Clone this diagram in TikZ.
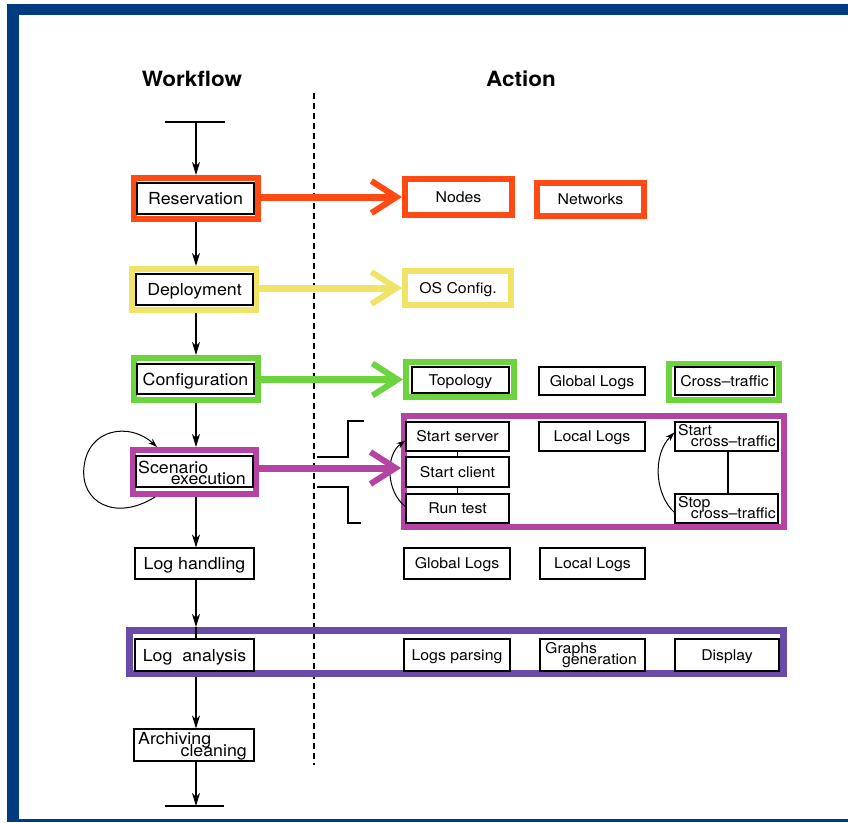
\documentclass[tikz,border=0pt]{standalone}
\usepackage{fontspec}
\setmainfont{TeX Gyre Heros}[FakeStretch=1.07]
\usetikzlibrary{arrows.meta,calc}
\definecolor{navy}{RGB}{0,58,128}
\definecolor{cOr}{RGB}{255,74,20}
\definecolor{cYe}{RGB}{240,228,104}
\definecolor{cGr}{RGB}{108,212,60}
\definecolor{cMa}{RGB}{180,68,164}
\definecolor{cVi}{RGB}{106,76,168}
\begin{document}
\begin{tikzpicture}[x=1pt,y=-1pt,
  rfont/.style={font=\fontsize{14.8}{15}\selectfont, text height=10.7pt, text depth=0pt},
  lfont/.style={font=\fontsize{16.6}{17}\selectfont, text height=12pt, text depth=0pt},
  frame/.style={draw=#1, line width=6pt, inner sep=0pt, outer sep=3pt, rfont},
  box/.style={draw=black, line width=1.1pt, fill=white, inner sep=0pt, rfont},
  lbox/.style={box, lfont},
  txt/.style={inner sep=0pt, font=\fontsize{14.8}{15}\selectfont},
  ltxt/.style={inner sep=0pt, font=\fontsize{16.6}{17}\selectfont},
  thin/.style={line width=1.1pt},
  flow/.style={thin, -{Stealth[length=13pt,width=8pt,inset=4pt]}},
  loop/.style={line width=1pt, -{Stealth[length=9pt,width=6pt,inset=3pt]}},
  big/.style={draw=#1, line width=7pt, -{Straight Barb[length=25pt,width=32pt,line width=6pt]}}
]
\useasboundingbox (0,0) rectangle (848,822);
\fill[white] (0,0) rectangle (848,822);
\fill[navy] (7,4) rectangle (848,15);
\fill[navy] (7,4) rectangle (19,822);
\fill[navy] (7,819) rectangle (848,822);

% titles
\node[font=\bfseries\fontsize{21}{21}\selectfont, anchor=base, inner sep=0pt] (tW) at (192,86) {Workflow};
\node[font=\bfseries\fontsize{21}{21}\selectfont, anchor=base, inner sep=0pt] (tA) at (521,86) {Action};

% dashed separator
\coordinate (d1) at (314,93);
\coordinate (d2) at (314,765);
\draw[thin, dash pattern=on 6pt off 4pt] (d1) -- (d2);

% ---- frames ----
\node[frame=cOr, minimum width=124pt, minimum height=41pt] (resF) at (196,198.5) {};
\node[frame=cYe, minimum width=124pt, minimum height=41pt] (depF) at (194,289.5) {};
\node[frame=cGr, minimum width=124pt, minimum height=42pt] (conF) at (196,379) {};
\node[frame=cMa, minimum width=123pt, minimum height=44pt] (scnF) at (194.5,472) {};
\node[frame=cVi, line width=7pt, outer sep=3.5pt, minimum width=654pt, minimum height=43pt] (lanF) at (456.5,652) {};

\node[frame=cOr, minimum width=107pt, minimum height=36pt] (nodesF) at (458.5,197) {Nodes};
\node[frame=cOr, minimum width=107pt, minimum height=33pt] (netF) at (590.5,199.5) {Networks};
\node[frame=cYe, minimum width=106pt, minimum height=34pt] (osF) at (458,288) {OS Config.};
\node[frame=cGr, minimum width=108pt, minimum height=35pt] (topF) at (460,379.5) {};
\node[frame=cGr, minimum width=110pt, minimum height=36pt] (crossF) at (724,382) {};
\node[frame=cMa, minimum width=380pt, minimum height=111pt] (scF) at (594,471.5) {};

% ---- left boxes ----
\node[lbox, minimum width=117pt, minimum height=31pt] (resB) at (195.5,198.5) {Reservation};
\node[lbox, minimum width=117pt, minimum height=31pt] (depB) at (194.5,289.5) {Deployment};
\node[lbox, minimum width=117pt, minimum height=30pt] (conB) at (195.5,379) {Configuration};
\node[lbox, minimum width=117pt, minimum height=31pt] (scnB) at (194.5,471.5) {};
\node[ltxt, anchor=base west] (scnT1) at (138,473) {Scenario};
\node[ltxt, anchor=base east] (scnT2) at (246,484) {execution};
\node[lbox, minimum width=119pt, minimum height=31pt] (logh) at (194.5,563.5) {Log handling};
\node[lbox, minimum width=119pt, minimum height=32pt] (lanB) at (194.5,655) {Log\ \ analysis};
\node[lbox, minimum width=120pt, minimum height=32pt] (arch) at (194,745) {};
\node[ltxt, anchor=base west] (archT1) at (138,744) {Archiving};
\node[ltxt, anchor=base east] (archT2) at (247,756) {cleaning};

% ---- right boxes ----
\node[box, minimum width=97pt, minimum height=26pt] (topB) at (460.5,380) {Topology};
\node[box, minimum width=106pt, minimum height=28pt] (glob1) at (592,381) {Global Logs};
\node[box, minimum width=99pt, minimum height=28pt] (crossB) at (724.5,381) {Cross–traffic};

\node[box, minimum width=103pt, minimum height=29pt] (ss) at (457.5,436.5) {Start server};
\node[box, minimum width=103pt, minimum height=30pt] (sc) at (457.5,472) {Start client};
\node[box, minimum width=103pt, minimum height=29pt] (rt) at (457.5,508.5) {Run test};
\node[box, minimum width=106pt, minimum height=29pt] (loc1) at (592,436.5) {Local Logs};
\node[box, minimum width=103pt, minimum height=29pt] (sct) at (726.5,436.5) {};
\node[txt, anchor=base west] (sctT1) at (678,435) {Start};
\node[txt, anchor=base east] (sctT2) at (776,446) {cross–traffic};
\node[box, minimum width=103pt, minimum height=29pt] (stct) at (726.5,508.5) {};
\node[txt, anchor=base west] (stctT1) at (678,507) {Stop};
\node[txt, anchor=base east] (stctT2) at (776,518) {cross–traffic};

\node[box, minimum width=106pt, minimum height=31pt] (glob2) at (457,563.5) {Global Logs};
\node[box, minimum width=105pt, minimum height=31pt] (loc2) at (592.5,563.5) {Local Logs};
\node[box, minimum width=106pt, minimum height=32pt] (lp) at (457,655) {Logs parsing};
\node[box, minimum width=105pt, minimum height=32pt] (gg) at (592.5,655) {};
\node[txt, anchor=base west] (ggT1) at (545,653) {Graphs};
\node[txt, anchor=base east] (ggT2) at (637,664) {generation};
\node[box, minimum width=104pt, minimum height=32pt] (disp) at (727,655) {Display};

% inner connectors
\draw[thin] (ss.south) -- (sc.north);
\draw[thin] (sc.south) -- (rt.north);
\draw[thin] ($(sct.south)+(1.5,0)$) -- ($(stct.north)+(1.5,0)$);

% curved arrows in scenario frame
\draw[loop] ($(rt.west)+(0,-2)$) .. controls (386,492) and (385,455) .. ($(ss.west)+(0,4)$);
\draw[loop] ($(stct.west)+(0,4)$) .. controls (655,495) and (652,455) .. ($(sct.west)+(0,-4)$);

% brackets
\draw[thin] (317,457) -- (348,457) -- (348,421) -- (364,421);
\draw[thin] (317,487) -- (348,487) -- (348,523) -- (361,523);

% workflow arrows
\coordinate (top) at (196,122);
\coordinate (tb1) at (165,122);
\coordinate (tb2) at (225,122);
\draw[thin] (tb1) -- (tb2);
\draw[flow] (top) -- (top |- resF.north);
\draw[flow] (resF.south -| top) -- (depF.north -| top);
\draw[flow] (depF.south -| top) -- (conF.north -| top);
\draw[flow] (conF.south -| top) -- (scnF.north -| top);
\draw[flow] (scnF.south -| top) -- (logh.north -| top);
\draw[flow] (logh.south -| top) -- (lanF.north -| top);
\draw[thin] (lanF.north -| top) -- (lanB.north -| top);
\draw[flow] (lanF.south -| top) -- (arch.north -| top);
\coordinate (bb) at (196,806);
\coordinate (bb1) at (165,806);
\coordinate (bb2) at (224,806);
\draw[flow] (arch.south -| top) -- (bb);
\draw[thin] (bb1) -- (bb2);

% self loop
\draw[loop] ($(scnF.south west)+(25,0)$) .. controls (115,522) and (80,502) .. (84,467)
  .. controls (88,428) and (130,422) .. ($(scnF.north west)+(27,0)$);

% coloured action arrows
\coordinate (mY) at (0,468);
\draw[big=cOr] (resF.east |- nodesF) -- (nodesF.west);
\draw[big=cYe] (depF.east |- osF) -- (osF.west);
\draw[big=cGr] (conF.east |- topF) -- (topF.west);
\draw[big=cMa] (scnF.east |- mY) -- (scF.west |- mY);
\end{tikzpicture}
\end{document}
